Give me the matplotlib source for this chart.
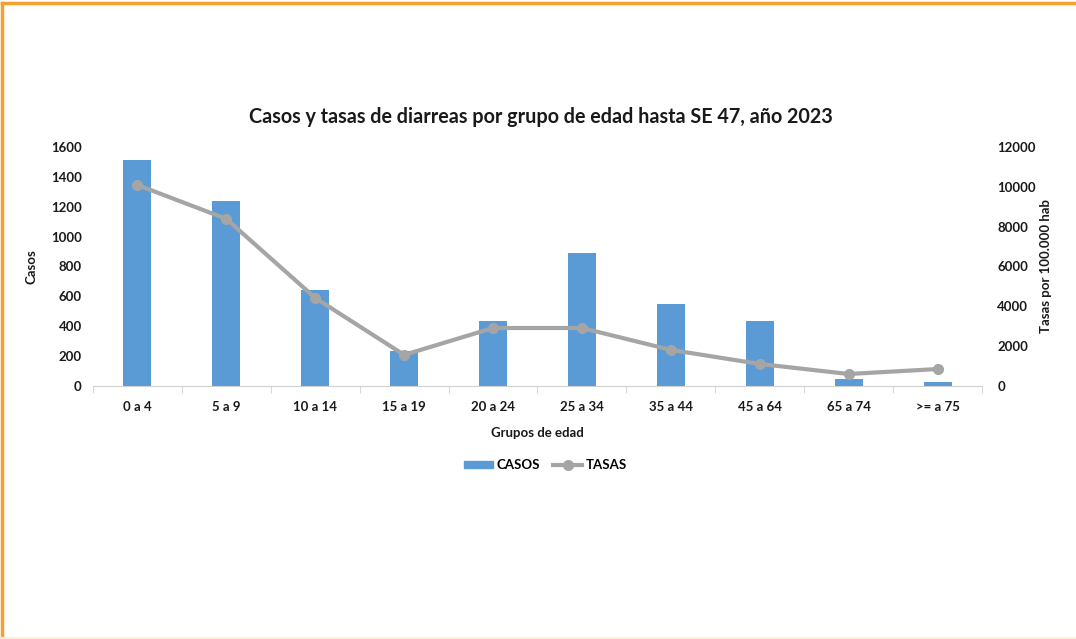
import matplotlib.pyplot as plt
from matplotlib.lines import Line2D
import numpy as np

plt.rcParams['font.family'] = ['Lato', 'DejaVu Sans']

# data
grupos = ['0 a 4', '5 a 9', '10 a 14', '15 a 19', '20 a 24', '25 a 34',
          '35 a 44', '45 a 64', '65 a 74', '>= a 75']
casos = [1515, 1235, 643, 234, 435, 890, 549, 435, 47, 27]
tasas = [10090, 8390, 4420, 1560, 2910, 2910, 1810, 1105, 600, 850]

bar_color = '#5B9BD5'
line_color = '#A5A5A5'
text_color = '#1a1a1a'

fig = plt.figure(figsize=(10.76, 6.39), dpi=100)
ax = fig.add_axes([0.0864, 0.396, 0.8262, 0.374])
x = np.arange(len(grupos))

ax.bar(x, casos, width=0.315, color=bar_color, zorder=2)
ax.set_xlim(-0.5, len(grupos) - 0.5)
ax.set_ylim(0, 1600)
ax.set_yticks(range(0, 1601, 200))
ax.set_xticks(x)
ax.set_xticklabels(grupos, fontsize=9.5, fontweight='bold', color=text_color)
ax.set_xticks(np.arange(-0.5, len(grupos), 1), minor=True)
ax.tick_params(axis='x', which='major', length=0, pad=11)
ax.tick_params(axis='x', which='minor', length=5, color='#d0d0d0')
ax.tick_params(axis='y', length=0, labelsize=9.5, pad=8, labelcolor=text_color)
for lab in ax.get_yticklabels():
  lab.set_fontweight('bold')
for s in ['top', 'right', 'left']:
  ax.spines[s].set_visible(False)
ax.spines['bottom'].set_color('#d0d0d0')
ax.set_ylabel('Casos', fontsize=9.5, fontweight='bold', color=text_color, labelpad=10)
ax.set_xlabel('Grupos de edad', fontsize=9.5, fontweight='bold', color=text_color, labelpad=10)

ax2 = ax.twinx()
ax2.plot(x, tasas, color=line_color, lw=3, marker='o', ms=7, zorder=3)
ax2.set_ylim(0, 12000)
ax2.set_yticks(range(0, 12001, 2000))
ax2.tick_params(axis='y', length=0, labelsize=9.5, pad=11, labelcolor=text_color)
for lab in ax2.get_yticklabels():
  lab.set_fontweight('bold')
for s in ax2.spines.values():
  s.set_visible(False)
ax2.set_ylabel('Tasas por 100.000 hab', fontsize=9.5, fontweight='bold', color=text_color, labelpad=3)

fig.text(0.503, 0.817, 'Casos y tasas de diarreas por grupo de edad hasta SE 47, año 2023',
         ha='center', va='center', fontsize=14.2, fontweight='bold', color=text_color)

handles = [plt.Rectangle((0, 0), 1, 1, color=bar_color),
           Line2D([], [], color=line_color, lw=3, marker='o', ms=7)]
fig.legend(handles, ['CASOS', 'TASAS'], loc='center', bbox_to_anchor=(0.507, 0.272),
           ncol=2, frameon=False, prop={'size': 9.5, 'weight': 'bold'},
           handlelength=2.2, handleheight=0.5, columnspacing=1.0, handletextpad=0.3)

# orange frame on top and left
fig.add_artist(Line2D([0.002, 1], [0.996, 0.996], color='#F5A030', lw=2.5, transform=fig.transFigure))
fig.add_artist(Line2D([0.002, 0.002], [0, 0.996], color='#F5A030', lw=2.5, transform=fig.transFigure))
fig.add_artist(Line2D([0.002, 1], [0.001, 0.001], color='#FBEFD8', lw=1.5, transform=fig.transFigure))

plt.savefig('out.png', dpi=100)
